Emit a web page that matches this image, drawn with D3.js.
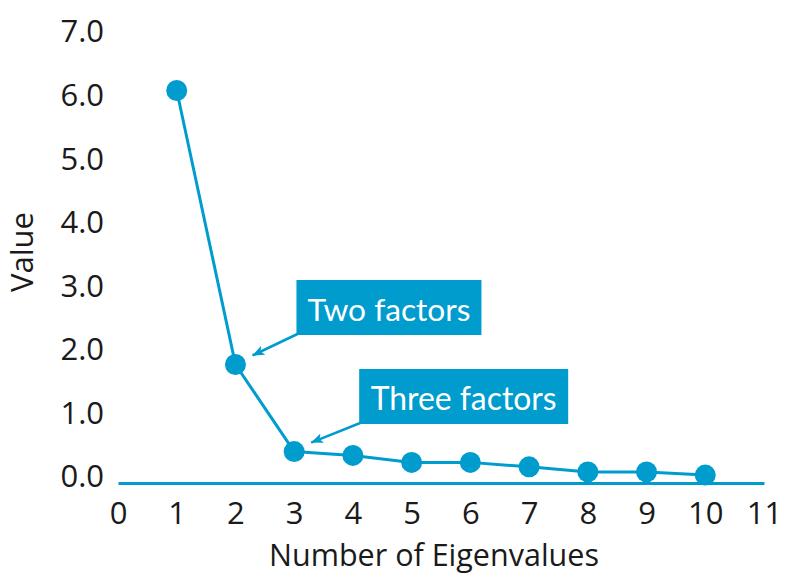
<!DOCTYPE html>
<html>
<head>
<meta charset="utf-8">
<script src="https://cdn.jsdelivr.net/npm/d3@7"></script>
<style>
  html, body { margin: 0; padding: 0; background: #fff; }
  svg { display: block; }
</style>
</head>
<body>
<svg id="chart" width="787" height="576"></svg>
<script>
// Scree plot data
const components = [1, 2, 3, 4, 5, 6, 7, 8, 9, 10];
const eigenvalues = [6.08, 1.77, 0.40, 0.34, 0.23, 0.23, 0.16, 0.08, 0.08, 0.03];
const xTicks = [0, 1, 2, 3, 4, 5, 6, 7, 8, 9, 10, 11];
const yTicks = [0, 1, 2, 3, 4, 5, 6, 7];
const callouts = [
  { label: "Two factors", index: 1 },
  { label: "Three factors", index: 2 }
];

const blue = "#009ccd";
const ink = "#1a1a1a";
const font = "'Open Sans', 'Noto Sans', sans-serif";

const svg = d3.select("#chart");

const x = d3.scaleLinear().domain([0, 11]).range([118, 764]);
const y = d3.scaleLinear().domain([0, 7]).range([477, 32]);

// x axis: baseline sits a few pixels below the zero label
const xAxis = svg.append("g")
  .attr("transform", `translate(0,${y(0) + 6})`)
  .call(d3.axisBottom(x).tickValues(xTicks).tickSize(0).tickSizeOuter(0).tickPadding(19).tickFormat(d3.format("d")));
xAxis.select(".domain").attr("stroke", blue).attr("stroke-width", 3);
xAxis.selectAll("text")
  .attr("font-family", font).attr("font-size", 31).attr("fill", ink);

// y axis labels only
const yAxis = svg.append("g")
  .attr("transform", "translate(104,0)")
  .call(d3.axisLeft(y).tickValues(yTicks).tickSize(0).tickPadding(0).tickFormat(d3.format(".1f")));
yAxis.select(".domain").remove();
yAxis.selectAll("text")
  .attr("font-family", font).attr("font-size", 31).attr("fill", ink);

// axis titles
svg.append("text")
  .attr("x", 434).attr("y", 566)
  .attr("text-anchor", "middle")
  .attr("font-family", font).attr("font-size", 30.5).attr("fill", ink)
  .text("Number of Eigenvalues");

svg.append("text")
  .attr("transform", `translate(33,252) rotate(-90)`)
  .attr("text-anchor", "middle")
  .attr("font-family", font).attr("font-size", 31).attr("fill", ink)
  .text("Value");

// line + markers
const pts = components.map((c, i) => ({ c, v: eigenvalues[i] }));
svg.append("path")
  .datum(pts)
  .attr("fill", "none").attr("stroke", blue).attr("stroke-width", 3)
  .attr("d", d3.line().x(d => x(d.c)).y(d => y(d.v)));

svg.append("g").selectAll("circle")
  .data(pts).join("circle")
  .attr("cx", d => x(d.c)).attr("cy", d => y(d.v)).attr("r", 10.5)
  .attr("fill", blue);

// arrowhead marker
const defs = svg.append("defs");
defs.append("marker")
  .attr("id", "arrow")
  .attr("viewBox", "0 0 12 10")
  .attr("refX", 12).attr("refY", 5)
  .attr("markerWidth", 12).attr("markerHeight", 10)
  .attr("markerUnits", "userSpaceOnUse")
  .attr("orient", "auto")
  .append("path")
  .attr("d", "M0,0 L12,5 L0,10 L3,5 Z")
  .attr("fill", blue);

// callout boxes, placed relative to the point they flag
const boxes = [
  { dx: 61, top: 280, w: 185, h: 55, textW: 163 },
  { dx: 65, top: 369, w: 209, h: 55, textW: 186 }
];
callouts.forEach((co, k) => {
  const p = pts[co.index];
  const b = boxes[k];
  const px = x(p.c), py = y(p.v);
  const bx = px + b.dx;
  const g = svg.append("g");
  g.append("line")
    .attr("x1", bx + 1).attr("y1", b.top + b.h - 1)
    .attr("x2", px + 17).attr("y2", py - 9)
    .attr("stroke", blue).attr("stroke-width", 2.5)
    .attr("marker-end", "url(#arrow)");
  g.append("rect")
    .attr("x", bx).attr("y", b.top).attr("width", b.w).attr("height", b.h)
    .attr("fill", blue);
  const t = g.append("text")
    .attr("x", bx + b.w / 2).attr("y", b.top + b.h / 2 + 1)
    .attr("text-anchor", "middle").attr("dominant-baseline", "central")
    .attr("font-family", "Lato, 'Open Sans', sans-serif").attr("font-size", 32)
    .attr("fill", "#fff")
    .text(co.label);
  const len = t.node().getComputedTextLength();
  if (len > 0) t.attr("font-size", 32 * b.textW / len);
});
</script>
</body>
</html>
